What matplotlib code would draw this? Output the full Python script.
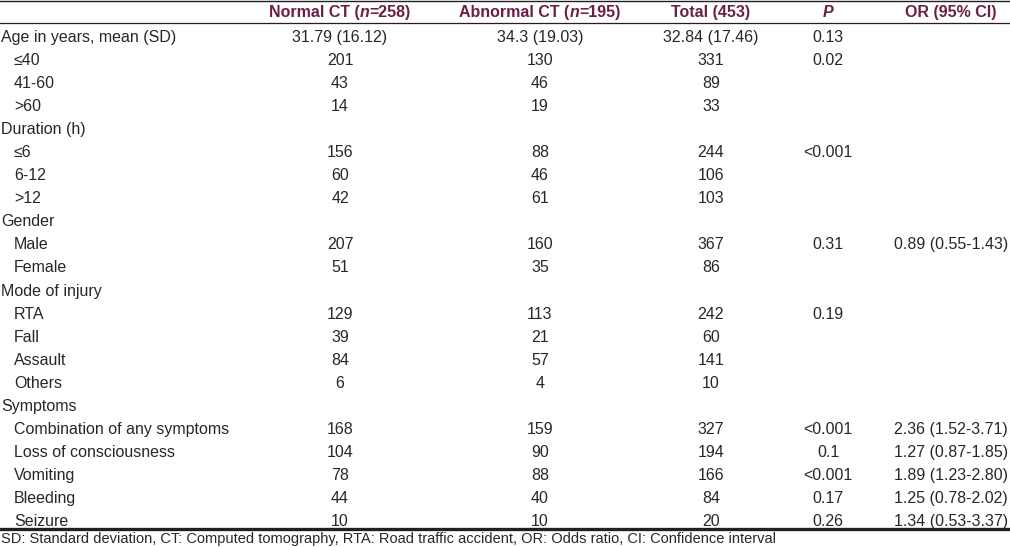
import matplotlib
matplotlib.use("Agg")
import matplotlib.pyplot as plt

plt.rcParams['font.family'] = ['Liberation Sans', 'DejaVu Sans']

# table content
labels = ["Age in years, mean (SD)", "\u226440", "41-60", ">60",
          "Duration (h)", "\u22646", "6-12", ">12",
          "Gender", "Male", "Female",
          "Mode of injury", "RTA", "Fall", "Assault", "Others",
          "Symptoms", "Combination of any symptoms", "Loss of consciousness",
          "Vomiting", "Bleeding", "Seizure"]
indent = [0, 1, 1, 1, 0, 1, 1, 1, 0, 1, 1, 0, 1, 1, 1, 1, 0, 1, 1, 1, 1, 1]
normal_ct = ["31.79 (16.12)", "201", "43", "14", "", "156", "60", "42", "", "207", "51",
             "", "129", "39", "84", "6", "", "168", "104", "78", "44", "10"]
abnormal_ct = ["34.3 (19.03)", "130", "46", "19", "", "88", "46", "61", "", "160", "35",
               "", "113", "21", "57", "4", "", "159", "90", "88", "40", "10"]
total = ["32.84 (17.46)", "331", "89", "33", "", "244", "106", "103", "", "367", "86",
         "", "242", "60", "141", "10", "", "327", "194", "166", "84", "20"]
p_value = ["0.13", "0.02", "", "", "", "<0.001", "", "", "", "0.31", "",
           "", "0.19", "", "", "", "", "<0.001", "0.1", "<0.001", "0.17", "0.26"]
or_ci = ["", "", "", "", "", "", "", "", "", "0.89 (0.55-1.43)", "",
         "", "", "", "", "", "", "2.36 (1.52-3.71)", "1.27 (0.87-1.85)",
         "1.89 (1.23-2.80)", "1.25 (0.78-2.02)", "1.34 (0.53-3.37)"]
footnote = "SD: Standard deviation, CT: Computed tomography, RTA: Road traffic accident, OR: Odds ratio, CI: Confidence interval"

W, H = 1010, 547
fig = plt.figure(figsize=(W / 100, H / 100), dpi=100)
ax = fig.add_axes([0, 0, 1, 1])
ax.set_xlim(0, W)
ax.set_ylim(H, 0)
ax.axis('off')

hdr_col = '#6b1f42'
txt_col = '#2a2627'
fs = 11.5
col_x = [340, 540, 711, 828, 951]

# header pieces: (text, style)
headers = [
    [("Normal CT (", 'normal'), ("n", 'italic'), ("=258)", 'normal')],
    [("Abnormal CT (", 'normal'), ("n", 'italic'), ("=195)", 'normal')],
    [("Total (453)", 'normal')],
    [("P", 'italic')],
    [("OR (95% CI)", 'normal')],
]
renderer = fig.canvas.get_renderer()
header_y = 12.5
for cx, parts in zip(col_x, headers):
    objs = []
    for s, st in parts:
        t = ax.text(0, header_y, s, fontsize=fs, fontweight='bold', style=st,
                    color=hdr_col, ha='left', va='center')
        objs.append(t)
    widths = [t.get_window_extent(renderer).width for t in objs]
    x = cx - sum(widths) / 2
    for t, w in zip(objs, widths):
        t.set_x(x)
        x += w

row_y0 = 37.5
row_dy = 23.05
for i, lab in enumerate(labels):
    y = row_y0 + i * row_dy
    ax.text(1 + 13 * indent[i], y, lab, fontsize=fs, color=txt_col, ha='left', va='center')
    for cx, col in zip(col_x, [normal_ct, abnormal_ct, total, p_value, or_ci]):
        if col[i]:
            ax.text(cx, y, col[i], fontsize=fs, color=txt_col, ha='center', va='center')

ax.plot([0, W], [1, 1], color='#231f20', lw=1.0)
ax.plot([0, W], [23, 23], color='#231f20', lw=0.9)
ax.plot([0, W], [528.5, 528.5], color='#231f20', lw=2.4)
ax.text(1, 539, footnote, fontsize=10.5, color=txt_col, ha='left', va='center')

fig.savefig("out.png", dpi=100, facecolor='white')
